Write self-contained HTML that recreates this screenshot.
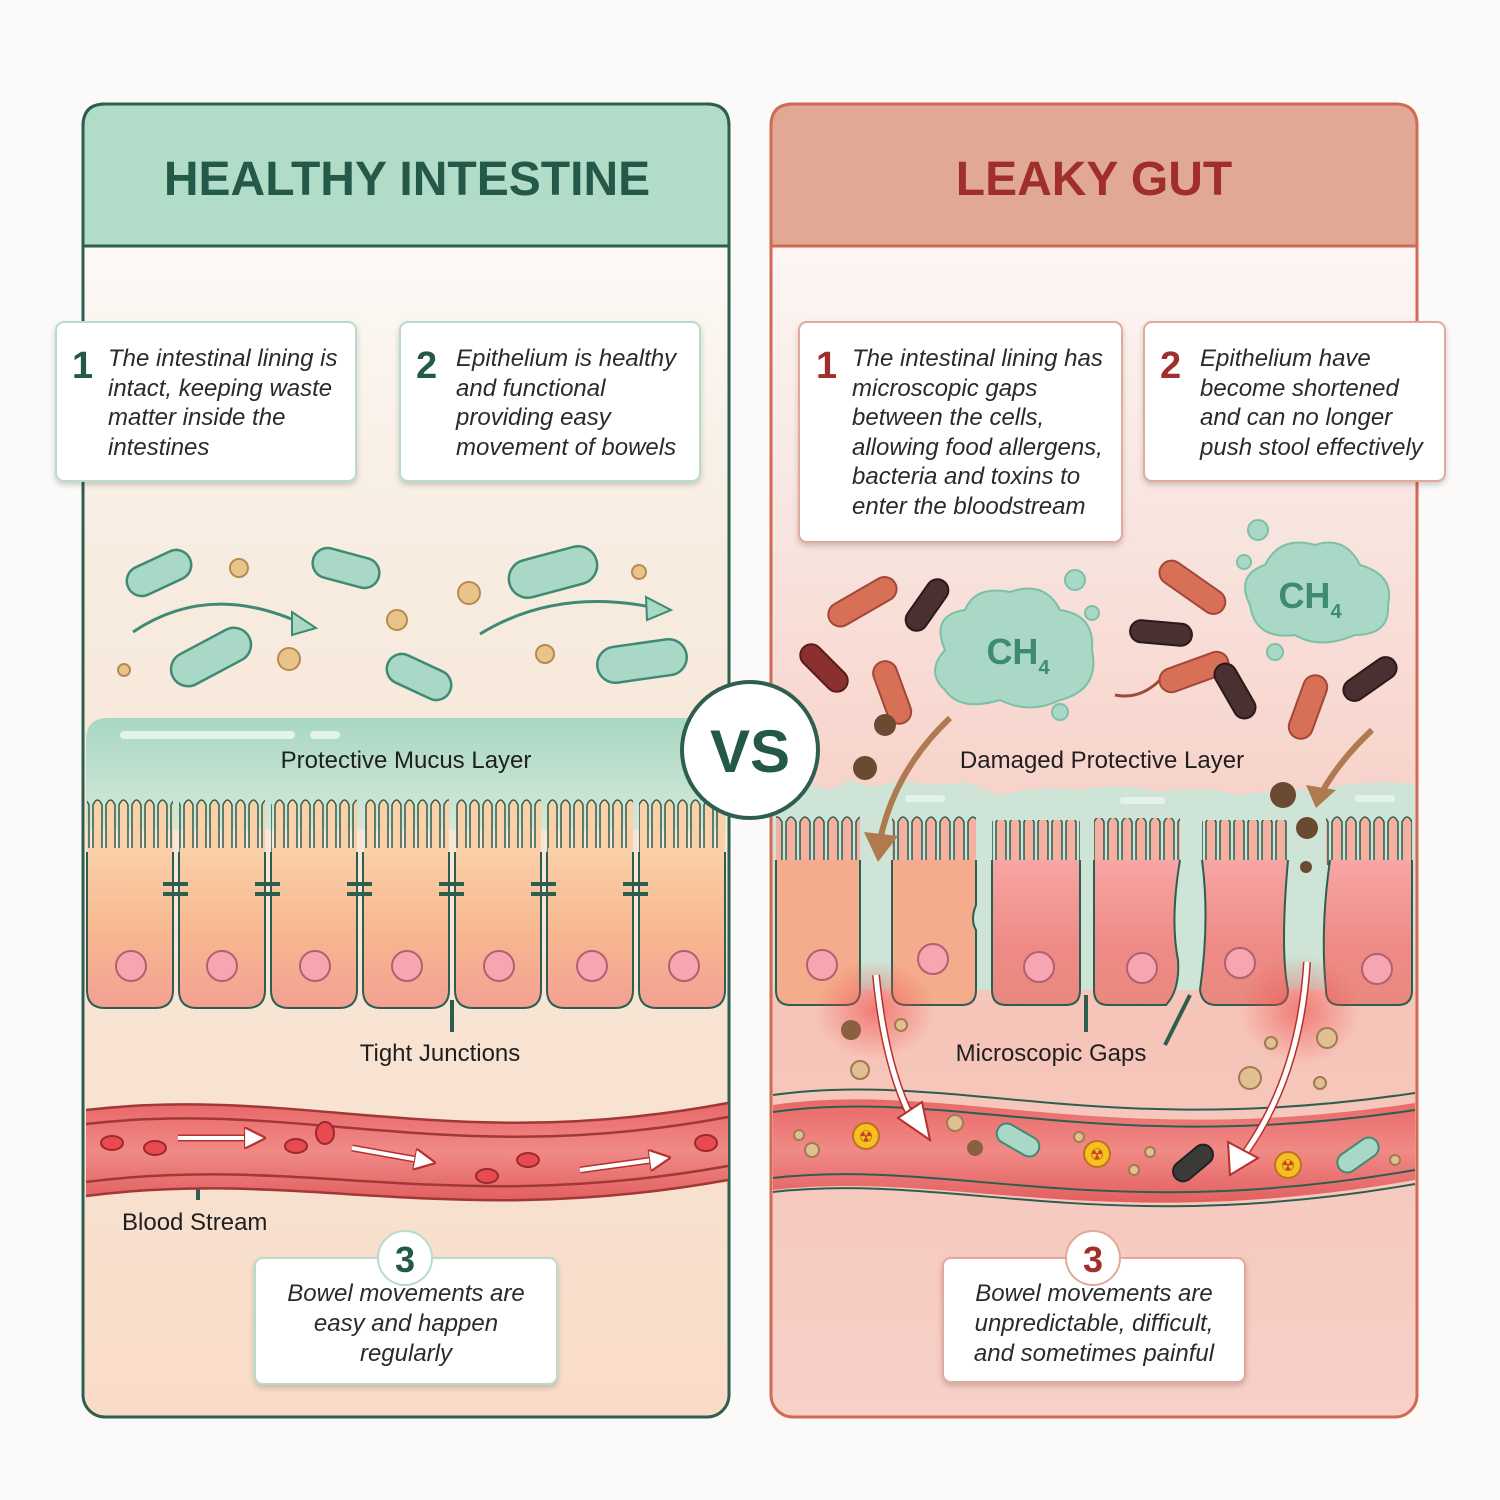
<!DOCTYPE html>
<html><head><meta charset="utf-8"><style>
html,body{margin:0;padding:0;background:#fbfaf8}
svg{display:block}
text{font-family:"Liberation Sans",sans-serif}
.bx{font-style:italic;font-size:24px;fill:#2a2a2a}
.lb{font-size:24px;fill:#1f1f1f}
</style></head><body>
<svg width="1500" height="1500" viewBox="0 0 1500 1500" xmlns="http://www.w3.org/2000/svg">
<defs>
<linearGradient id="lbg" x1="0" y1="0" x2="0" y2="1"><stop offset="0" stop-color="#ffffff"/><stop offset="0.35" stop-color="#f7ece0"/><stop offset="1" stop-color="#f9dcc8"/></linearGradient>
<linearGradient id="rbg" x1="0" y1="0" x2="0" y2="1"><stop offset="0" stop-color="#ffffff"/><stop offset="0.35" stop-color="#f8e2dc"/><stop offset="0.7" stop-color="#f6c4b8"/><stop offset="1" stop-color="#f7d0c8"/></linearGradient>
<linearGradient id="mucus" x1="0" y1="0" x2="0" y2="1"><stop offset="0" stop-color="#a8d8c4"/><stop offset="1" stop-color="#d6e8d8"/></linearGradient>
<linearGradient id="cell" x1="0" y1="0" x2="0" y2="1"><stop offset="0" stop-color="#f9d0a8"/><stop offset="0.5" stop-color="#f8b890"/><stop offset="1" stop-color="#f3a092"/></linearGradient>
<linearGradient id="rcell" x1="0" y1="0" x2="0" y2="1"><stop offset="0" stop-color="#f7a6a4"/><stop offset="0.6" stop-color="#ee8a86"/><stop offset="1" stop-color="#e9897e"/></linearGradient>
<linearGradient id="vessel" x1="0" y1="0" x2="0" y2="1"><stop offset="0" stop-color="#e86868"/><stop offset="0.5" stop-color="#f08a86"/><stop offset="1" stop-color="#e25f5f"/></linearGradient>
<pattern id="villi" width="13" height="60" patternUnits="userSpaceOnUse" x="0" y="795">
<path d="M2,62 L2,10 Q6.5,0 11,10 L11,62" fill="#f9d0a8" stroke="#2d5e4f" stroke-width="1.5"/></pattern>
<pattern id="rvilli" width="14" height="60" patternUnits="userSpaceOnUse" x="0" y="810">
<path d="M2,62 L2,12 Q7,2 12,12 L12,62" fill="#f4b0a0" stroke="#2d5e4f" stroke-width="1.5"/></pattern>
<radialGradient id="glow"><stop offset="0" stop-color="#ef4a4a" stop-opacity="0.6"/><stop offset="1" stop-color="#ef4a4a" stop-opacity="0"/></radialGradient>
<marker id="ah" markerWidth="22" markerHeight="22" refX="5" refY="5" orient="auto" markerUnits="userSpaceOnUse" viewBox="0 0 10 10"><path d="M0,0 L10,5 L0,10 Z" fill="#ffffff" stroke="#b8302c" stroke-width="1"/></marker>
<filter id="sh" x="-10%" y="-10%" width="120%" height="130%"><feDropShadow dx="0" dy="3" stdDeviation="3" flood-color="#000" flood-opacity="0.18"/></filter>
</defs>

<!-- LEFT PANEL -->
<rect x="83" y="104" width="646" height="1313" rx="22" fill="url(#lbg)" stroke="#2d5e4f" stroke-width="3"/>
<path d="M83,246 V126 Q83,104 105,104 H707 Q729,104 729,126 V246 Z" fill="#b1dcc8" stroke="#2d5e4f" stroke-width="3"/>
<text x="407" y="195" text-anchor="middle" font-size="48" font-weight="bold" fill="#24594a">HEALTHY INTESTINE</text>

<!-- RIGHT PANEL -->
<rect x="771" y="104" width="646" height="1313" rx="22" fill="url(#rbg)" stroke="#d06a55" stroke-width="3"/>
<path d="M771,246 V126 Q771,104 793,104 H1395 Q1417,104 1417,126 V246 Z" fill="#e1a995" stroke="#d06a55" stroke-width="3"/>
<text x="1094" y="195" text-anchor="middle" font-size="48" font-weight="bold" fill="#a02e2a">LEAKY GUT</text>

<g filter="url(#sh)">
<rect x="56" y="322" width="300" height="159" rx="8" fill="#fff" stroke="#b8dccc" stroke-width="2"/>
<rect x="400" y="322" width="300" height="159" rx="8" fill="#fff" stroke="#b8dccc" stroke-width="2"/>
<rect x="799" y="322" width="323" height="220" rx="8" fill="#fff" stroke="#e3a99a" stroke-width="2"/>
<rect x="1144" y="322" width="301" height="159" rx="8" fill="#fff" stroke="#e3a99a" stroke-width="2"/>
<rect x="255" y="1258" width="302" height="126" rx="8" fill="#fff" stroke="#b8dccc" stroke-width="2"/>
<rect x="943" y="1258" width="302" height="124" rx="8" fill="#fff" stroke="#e3a99a" stroke-width="2"/>
</g>
<text x="72" y="378" font-size="38" font-weight="bold" fill="#24594a">1</text>
<text class="bx"><tspan x="108" y="366">The intestinal lining is</tspan><tspan x="108" y="396">intact, keeping waste</tspan><tspan x="108" y="425">matter inside the</tspan><tspan x="108" y="455">intestines</tspan></text>
<text x="416" y="378" font-size="38" font-weight="bold" fill="#24594a">2</text>
<text class="bx"><tspan x="456" y="366">Epithelium is healthy</tspan><tspan x="456" y="396">and functional</tspan><tspan x="456" y="425">providing easy</tspan><tspan x="456" y="455">movement of bowels</tspan></text>
<text x="816" y="378" font-size="38" font-weight="bold" fill="#a02e2a">1</text>
<text class="bx"><tspan x="852" y="366">The intestinal lining has</tspan><tspan x="852" y="396">microscopic gaps</tspan><tspan x="852" y="425">between the cells,</tspan><tspan x="852" y="455">allowing food allergens,</tspan><tspan x="852" y="484">bacteria and toxins to</tspan><tspan x="852" y="514">enter the bloodstream</tspan></text>
<text x="1160" y="378" font-size="38" font-weight="bold" fill="#a02e2a">2</text>
<text class="bx"><tspan x="1200" y="366">Epithelium have</tspan><tspan x="1200" y="396">become shortened</tspan><tspan x="1200" y="425">and can no longer</tspan><tspan x="1200" y="455">push stool effectively</tspan></text>

<!-- Left bacteria & particles -->
<g fill="#a9d8c6" stroke="#3f8a74" stroke-width="2.5">
<rect x="125" y="558" width="68" height="30" rx="15" transform="rotate(-25 159 573)"/>
<rect x="312" y="553" width="68" height="30" rx="15" transform="rotate(15 346 568)"/>
<rect x="168" y="640" width="86" height="34" rx="17" transform="rotate(-28 211 657)"/>
<rect x="385" y="662" width="68" height="30" rx="15" transform="rotate(25 419 677)"/>
<rect x="508" y="553" width="90" height="38" rx="19" transform="rotate(-15 553 572)"/>
<rect x="597" y="643" width="90" height="36" rx="18" transform="rotate(-8 642 661)"/>
</g>
<g fill="#e9c48a" stroke="#b88a50" stroke-width="2">
<circle cx="239" cy="568" r="9"/><circle cx="289" cy="659" r="11"/><circle cx="124" cy="670" r="6"/><circle cx="397" cy="620" r="10"/><circle cx="469" cy="593" r="11"/><circle cx="639" cy="572" r="7"/><circle cx="545" cy="654" r="9"/>
</g>
<g fill="none" stroke="#3f8a74" stroke-width="3">
<path d="M133,632 Q210,580 305,625"/><path d="M480,634 Q560,585 665,610"/>
</g>
<path d="M292,612 L316,628 L292,635 Z M646,597 L671,610 L647,620 Z" fill="#a9d8c6" stroke="#3f8a74" stroke-width="2"/>

<path d="M86,740 Q86,718 108,718 H726 V830 H86 Z" fill="url(#mucus)"/>
<rect x="120" y="731" width="175" height="8" rx="4" fill="#e3f3ec"/>
<rect x="310" y="731" width="30" height="8" rx="4" fill="#e3f3ec"/>
<text x="406" y="768" class="lb" text-anchor="middle">Protective Mucus Layer</text>

<g>
<rect x="87" y="795" width="86" height="60" fill="url(#villi)"/>
<rect x="179" y="795" width="86" height="60" fill="url(#villi)"/>
<rect x="271" y="795" width="86" height="60" fill="url(#villi)"/>
<rect x="363" y="795" width="86" height="60" fill="url(#villi)"/>
<rect x="455" y="795" width="86" height="60" fill="url(#villi)"/>
<rect x="547" y="795" width="86" height="60" fill="url(#villi)"/>
<rect x="639" y="795" width="86" height="60" fill="url(#villi)"/>
<g fill="url(#cell)" stroke="#2d5e4f" stroke-width="2">
<path d="M87,852 V990 Q87,1008 105,1008 H155 Q173,1008 173,990 V852"/>
<path d="M179,852 V990 Q179,1008 197,1008 H247 Q265,1008 265,990 V852"/>
<path d="M271,852 V990 Q271,1008 289,1008 H339 Q357,1008 357,990 V852"/>
<path d="M363,852 V990 Q363,1008 381,1008 H431 Q449,1008 449,990 V852"/>
<path d="M455,852 V990 Q455,1008 473,1008 H523 Q541,1008 541,990 V852"/>
<path d="M547,852 V990 Q547,1008 565,1008 H615 Q633,1008 633,990 V852"/>
<path d="M639,852 V990 Q639,1008 657,1008 H707 Q725,1008 725,990 V852"/>
</g>
<rect x="88" y="848" width="84" height="8" fill="#f9d0a8"/><rect x="180" y="848" width="84" height="8" fill="#f9d0a8"/><rect x="272" y="848" width="84" height="8" fill="#f9d0a8"/><rect x="364" y="848" width="84" height="8" fill="#f9d0a8"/><rect x="456" y="848" width="84" height="8" fill="#f9d0a8"/><rect x="548" y="848" width="84" height="8" fill="#f9d0a8"/><rect x="640" y="848" width="84" height="8" fill="#f9d0a8"/>
<g fill="#f7a5b0" stroke="#b06070" stroke-width="2">
<circle cx="131" cy="966" r="15"/><circle cx="222" cy="966" r="15"/><circle cx="315" cy="966" r="15"/><circle cx="407" cy="966" r="15"/><circle cx="499" cy="966" r="15"/><circle cx="592" cy="966" r="15"/><circle cx="684" cy="966" r="15"/>
</g>
<g stroke="#2d5e4f" stroke-width="4">
<path d="M163,884 H188 M163,894 H188 M255,884 H280 M255,894 H280 M347,884 H372 M347,894 H372 M439,884 H464 M439,894 H464 M531,884 H556 M531,894 H556 M623,884 H648 M623,894 H648"/>
<path d="M452,1000 V1032 M198,1172 V1200"/>
</g>
</g>
<text x="440" y="1061" class="lb" text-anchor="middle">Tight Junctions</text>

<path d="M86,1110 C300,1085 450,1155 728,1103 L728,1180 C450,1230 300,1168 86,1196 Z" fill="url(#vessel)"/>
<g fill="none" stroke="#a03838" stroke-width="2.5">
<path d="M86,1110 C300,1085 450,1155 728,1103"/><path d="M86,1124 C300,1099 450,1169 728,1117"/>
<path d="M86,1182 C300,1154 450,1216 728,1166"/><path d="M86,1196 C300,1168 450,1230 728,1180"/>
</g>
<g fill="#e84a50" stroke="#9a2a30" stroke-width="2">
<ellipse cx="112" cy="1143" rx="11" ry="7"/><ellipse cx="155" cy="1148" rx="11" ry="7"/><ellipse cx="296" cy="1146" rx="11" ry="7"/><ellipse cx="325" cy="1133" rx="9" ry="11"/><ellipse cx="487" cy="1176" rx="11" ry="7"/><ellipse cx="528" cy="1160" rx="11" ry="7"/><ellipse cx="706" cy="1143" rx="11" ry="8"/>
</g>
<g stroke="#b8302c" stroke-width="7" fill="none">
<path d="M178,1138 H255"/><path d="M352,1148 L425,1161"/><path d="M580,1170 L660,1159"/>
</g>
<g stroke="#ffffff" stroke-width="4" fill="none" marker-end="url(#ah)">
<path d="M178,1138 H255"/><path d="M352,1148 L425,1161"/><path d="M580,1170 L660,1159"/>
</g>
<text x="122" y="1230" class="lb">Blood Stream</text>

<circle cx="405" cy="1258" r="27" fill="#fff" stroke="#b8dccc" stroke-width="2"/>
<text x="405" y="1272" text-anchor="middle" font-size="36" font-weight="bold" fill="#24594a">3</text>
<text class="bx" text-anchor="middle"><tspan x="406" y="1301">Bowel movements are</tspan><tspan x="406" y="1331">easy and happen</tspan><tspan x="406" y="1361">regularly</tspan></text>

<!-- RIGHT illustration -->
<g fill="#a9d8c6" stroke="#7cc0a8" stroke-width="2">
<path d="M945,650 Q930,615 965,610 Q975,585 1010,592 Q1045,580 1060,610 Q1095,615 1092,650 Q1100,690 1060,700 Q1030,715 1000,700 Q960,712 945,690 Q925,672 945,650 Z"/>
<path d="M1250,605 Q1235,575 1265,565 Q1280,535 1315,545 Q1345,535 1360,565 Q1395,575 1388,605 Q1390,635 1355,635 Q1320,650 1295,635 Q1255,640 1250,605 Z"/>
<circle cx="1075" cy="580" r="10"/><circle cx="1092" cy="613" r="7"/><circle cx="1060" cy="712" r="8"/><circle cx="1258" cy="530" r="10"/><circle cx="1244" cy="562" r="7"/><circle cx="1275" cy="652" r="8"/>
</g>
<text x="1018" y="664" text-anchor="middle" font-size="36" font-weight="bold" fill="#3f8a74">CH<tspan font-size="20" dy="10">4</tspan></text>
<text x="1310" y="608" text-anchor="middle" font-size="36" font-weight="bold" fill="#3f8a74">CH<tspan font-size="20" dy="10">4</tspan></text>
<g stroke-width="2">
<rect x="825" y="590" width="75" height="24" rx="12" fill="#d87058" stroke="#a04838" transform="rotate(-30 862 602)"/>
<rect x="898" y="594" width="58" height="22" rx="11" fill="#4a3030" stroke="#2a1a1a" transform="rotate(-55 927 605)"/>
<rect x="795" y="657" width="58" height="22" rx="11" fill="#8a3030" stroke="#5a1a1a" transform="rotate(45 824 668)"/>
<rect x="860" y="680" width="65" height="24" rx="12" fill="#d87058" stroke="#a04838" transform="rotate(70 892 692)"/>
<rect x="1155" y="575" width="75" height="24" rx="12" fill="#d87058" stroke="#a04838" transform="rotate(35 1192 587)"/>
<rect x="1130" y="622" width="62" height="22" rx="11" fill="#4a3030" stroke="#2a1a1a" transform="rotate(5 1161 633)"/>
<rect x="1158" y="660" width="72" height="24" rx="12" fill="#d87058" stroke="#a04838" transform="rotate(-20 1194 672)"/>
<rect x="1205" y="680" width="60" height="22" rx="11" fill="#4a3030" stroke="#2a1a1a" transform="rotate(60 1235 691)"/>
<rect x="1275" y="695" width="66" height="24" rx="12" fill="#d87058" stroke="#a04838" transform="rotate(-70 1308 707)"/>
<rect x="1340" y="668" width="60" height="22" rx="11" fill="#4a3030" stroke="#2a1a1a" transform="rotate(-35 1370 679)"/>
</g>
<path d="M1160,680 Q1140,700 1115,695" stroke="#a04838" stroke-width="3" fill="none"/>
<g fill="#6a4a30"><circle cx="885" cy="725" r="11"/><circle cx="865" cy="768" r="12"/></g>

<path d="M773,795 Q800,780 830,790 L850,780 Q870,792 900,780 Q940,788 965,782 L1000,795 Q1040,785 1080,790 Q1120,782 1160,792 Q1200,785 1240,795 Q1280,788 1320,790 Q1370,778 1415,785 V990 H773 Z" fill="#cde4d6"/>
<g fill="#e3f3ec"><rect x="905" y="795" width="40" height="7" rx="3"/><rect x="1120" y="797" width="45" height="7" rx="3"/><rect x="1355" y="795" width="40" height="7" rx="3"/></g>
<text x="1102" y="768" class="lb" text-anchor="middle">Damaged Protective Layer</text>

<g>
<rect x="776" y="815" width="84" height="50" fill="url(#rvilli)"/>
<rect x="892" y="810" width="84" height="55" fill="url(#rvilli)"/>
<rect x="992" y="820" width="88" height="45" fill="url(#rvilli)"/>
<rect x="1094" y="818" width="86" height="47" fill="url(#rvilli)"/>
<rect x="1202" y="820" width="86" height="45" fill="url(#rvilli)"/>
<rect x="1326" y="815" width="86" height="50" fill="url(#rvilli)"/>
<g stroke="#2d5e4f" stroke-width="2">
<path d="M776,860 V990 Q776,1005 790,1005 H846 Q860,1005 860,990 V860" fill="#f4ac8c"/>
<path d="M892,860 V990 Q892,1005 906,1005 H962 Q976,1005 976,990 V930 Q970,920 976,905 V860" fill="#f4ac8c"/>
<path d="M992,860 V990 Q992,1005 1006,1005 H1066 Q1080,1005 1080,990 V860" fill="url(#rcell)"/>
<path d="M1094,860 V990 Q1094,1005 1108,1005 H1166 Q1180,990 1178,960 Q1170,920 1180,860" fill="url(#rcell)"/>
<path d="M1202,860 Q1210,920 1200,990 Q1202,1005 1216,1005 H1274 Q1288,1005 1288,990 Q1280,950 1288,860" fill="url(#rcell)"/>
<path d="M1330,860 Q1320,930 1326,990 Q1326,1005 1340,1005 H1398 Q1412,1005 1412,990 V860" fill="url(#rcell)"/>
</g>
<g fill="#f7a5b0" stroke="#b06070" stroke-width="2">
<circle cx="822" cy="965" r="15"/><circle cx="933" cy="959" r="15"/><circle cx="1039" cy="967" r="15"/><circle cx="1142" cy="968" r="15"/><circle cx="1240" cy="963" r="15"/><circle cx="1377" cy="969" r="15"/>
</g>
<ellipse cx="875" cy="1010" rx="60" ry="50" fill="url(#glow)"/>
<ellipse cx="1300" cy="1010" rx="60" ry="55" fill="url(#glow)"/>
<path d="M1086,995 V1032 M1190,995 L1165,1045" stroke="#2d5e4f" stroke-width="4"/>
</g>
<!-- brown arrows & particles on top -->
<g fill="#6a4a30"><circle cx="1283" cy="795" r="13"/><circle cx="1307" cy="828" r="11"/><circle cx="1306" cy="867" r="6"/></g>
<g fill="none" stroke="#b07a50" stroke-width="6">
<path d="M950,718 Q895,770 880,840"/><path d="M1372,730 Q1340,760 1322,792"/>
</g>
<path d="M864,832 L878,862 L898,836 Z M1306,785 L1316,808 L1336,790 Z" fill="#b07a50"/>

<text x="1051" y="1061" class="lb" text-anchor="middle">Microscopic Gaps</text>
<g fill="#e0c090" stroke="#a07a50" stroke-width="2">
<circle cx="901" cy="1025" r="6"/><circle cx="860" cy="1070" r="9"/><circle cx="1271" cy="1043" r="6"/><circle cx="1250" cy="1078" r="11"/><circle cx="1327" cy="1038" r="10"/><circle cx="1320" cy="1083" r="6"/>
</g>
<circle cx="851" cy="1030" r="10" fill="#8a6040"/>

<path d="M773,1105 C950,1080 1100,1150 1415,1103 L1415,1180 C1100,1235 950,1170 773,1190 Z" fill="url(#vessel)"/>
<g fill="none" stroke="#2d5e4f" stroke-width="2">
<path d="M773,1095 C950,1070 1100,1140 1415,1093"/><path d="M773,1112 C950,1087 1100,1157 1415,1110"/>
<path d="M773,1178 C950,1158 1100,1225 1415,1170"/><path d="M773,1192 C950,1172 1100,1239 1415,1184"/>
</g>
<g fill="#f5c020" stroke="#c07020" stroke-width="2">
<circle cx="866" cy="1136" r="13"/><circle cx="1097" cy="1154" r="13"/><circle cx="1288" cy="1165" r="13"/>
</g>
<g fill="#c04020" font-size="16" text-anchor="middle"><text x="866" y="1142">☢</text><text x="1097" y="1160">☢</text><text x="1288" y="1171">☢</text></g>
<g stroke-width="2">
<rect x="995" y="1130" width="46" height="20" rx="10" fill="#a9d8c6" stroke="#3f8a74" transform="rotate(30 1018 1140)"/>
<rect x="1335" y="1145" width="46" height="20" rx="10" fill="#a9d8c6" stroke="#3f8a74" transform="rotate(-35 1358 1155)"/>
<rect x="1170" y="1153" width="46" height="20" rx="10" fill="#3a3a38" stroke="#222" transform="rotate(-40 1193 1163)"/>
</g>
<g fill="#e0c090" stroke="#a07a50" stroke-width="2">
<circle cx="799" cy="1135" r="5"/><circle cx="812" cy="1150" r="7"/><circle cx="955" cy="1123" r="8"/><circle cx="1079" cy="1137" r="5"/><circle cx="1134" cy="1170" r="5"/><circle cx="1150" cy="1152" r="5"/><circle cx="1395" cy="1160" r="5"/>
</g>
<circle cx="975" cy="1148" r="8" fill="#8a6040"/>
<g stroke="#b8302c" stroke-width="8" fill="none"><path d="M876,975 Q885,1070 915,1125"/><path d="M1307,962 Q1300,1080 1240,1160"/></g>
<g stroke="#ffffff" stroke-width="5" fill="none"><path d="M876,975 Q885,1070 915,1125"/><path d="M1307,962 Q1300,1080 1240,1160"/></g>
<path d="M898,1118 L930,1140 L922,1102 Z M1228,1142 L1230,1175 L1258,1158 Z" fill="#fff" stroke="#b8302c" stroke-width="2"/>

<circle cx="1093" cy="1258" r="27" fill="#fff" stroke="#e3a99a" stroke-width="2"/>
<text x="1093" y="1272" text-anchor="middle" font-size="36" font-weight="bold" fill="#a02e2a">3</text>
<text class="bx" text-anchor="middle"><tspan x="1094" y="1301">Bowel movements are</tspan><tspan x="1094" y="1331">unpredictable, difficult,</tspan><tspan x="1094" y="1361">and sometimes painful</tspan></text>

<circle cx="750" cy="750" r="68" fill="#fff" stroke="#2d5e4f" stroke-width="4"/>
<text x="750" y="772" text-anchor="middle" font-size="60" font-weight="bold" fill="#24594a">VS</text>
</svg>
</body></html>
